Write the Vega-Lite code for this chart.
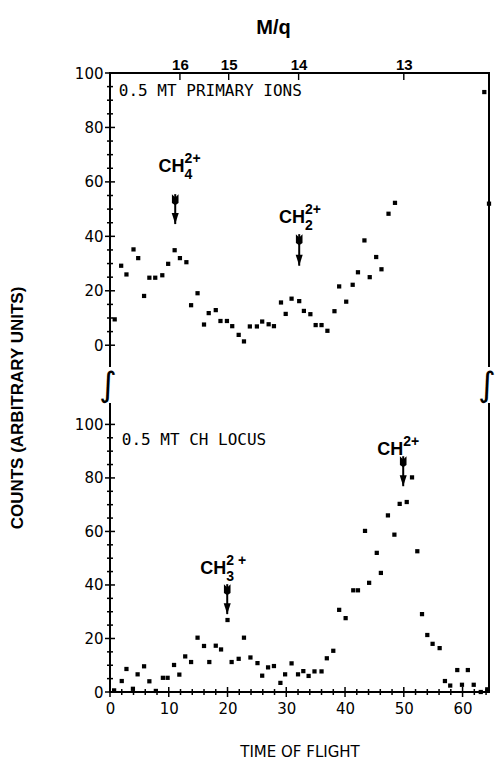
{
"$schema": "https://vega.github.io/schema/vega-lite/v6.json",
"background": "white",
"padding": {"left": 9, "top": 17, "right": 5, "bottom": 0},
"bounds": "flush",
"spacing": 36,
"title": {"text": "COUNTS (ARBITRARY UNITS)", "orient": "left", "anchor": "middle", "font": "Liberation Sans", "fontSize": 17, "fontWeight": "bold", "color": "black", "offset": 47, "dx": -20},
"datasets": {
"top": [{"tof":0.8,"cnt":9.5},{"tof":1.9,"cnt":29.2},{"tof":2.8,"cnt":26},{"tof":4.0,"cnt":35.2},{"tof":4.8,"cnt":32},{"tof":5.8,"cnt":18.1},{"tof":6.7,"cnt":24.8},{"tof":7.7,"cnt":24.8},{"tof":8.9,"cnt":25.7},{"tof":9.9,"cnt":29.9},{"tof":11.0,"cnt":34.9},{"tof":11.9,"cnt":32},{"tof":13.0,"cnt":30.5},{"tof":13.8,"cnt":14.7},{"tof":14.9,"cnt":19.1},{"tof":16.0,"cnt":7.6},{"tof":16.8,"cnt":11.8},{"tof":18.0,"cnt":12.9},{"tof":18.8,"cnt":8.9},{"tof":19.9,"cnt":8.9},{"tof":20.8,"cnt":7},{"tof":21.9,"cnt":3.8},{"tof":22.8,"cnt":1.4},{"tof":23.8,"cnt":6.9},{"tof":25.0,"cnt":6.9},{"tof":25.9,"cnt":8.7},{"tof":27.0,"cnt":7.7},{"tof":27.9,"cnt":7},{"tof":29.1,"cnt":15.7},{"tof":29.9,"cnt":11.5},{"tof":30.9,"cnt":17.1},{"tof":32.2,"cnt":16.2},{"tof":33.0,"cnt":12.6},{"tof":34.1,"cnt":11.4},{"tof":35.0,"cnt":7.4},{"tof":36.0,"cnt":7.4},{"tof":37.0,"cnt":5.3},{"tof":38.2,"cnt":12.5},{"tof":39.0,"cnt":21.6},{"tof":40.2,"cnt":16},{"tof":41.3,"cnt":22.2},{"tof":42.2,"cnt":26.8},{"tof":43.3,"cnt":38.5},{"tof":44.2,"cnt":25},{"tof":45.3,"cnt":32.4},{"tof":46.2,"cnt":27.9},{"tof":47.4,"cnt":48.3},{"tof":48.5,"cnt":52.3},{"tof":63.7,"cnt":93},{"tof":64.5,"cnt":52}],
"bot": [{"tof":0.7,"cnt":0.6},{"tof":2.0,"cnt":4.1},{"tof":2.8,"cnt":8.6},{"tof":3.9,"cnt":1.2},{"tof":4.7,"cnt":6.6},{"tof":5.8,"cnt":9.6},{"tof":6.7,"cnt":4.0},{"tof":7.8,"cnt":0.4},{"tof":9.0,"cnt":5.3},{"tof":9.8,"cnt":5.3},{"tof":10.9,"cnt":10.1},{"tof":11.8,"cnt":6.5},{"tof":12.8,"cnt":13.3},{"tof":13.8,"cnt":11.2},{"tof":14.9,"cnt":20.3},{"tof":16.0,"cnt":17.2},{"tof":16.9,"cnt":11.2},{"tof":18.0,"cnt":17.3},{"tof":18.9,"cnt":15.9},{"tof":20.0,"cnt":26.9},{"tof":20.7,"cnt":11.2},{"tof":21.9,"cnt":12.4},{"tof":22.8,"cnt":20.3},{"tof":23.9,"cnt":12.9},{"tof":25.1,"cnt":10.8},{"tof":25.9,"cnt":6.1},{"tof":26.9,"cnt":9.2},{"tof":27.9,"cnt":9.7},{"tof":29.0,"cnt":3.4},{"tof":29.8,"cnt":6.6},{"tof":30.9,"cnt":10.7},{"tof":32.0,"cnt":6.6},{"tof":32.9,"cnt":7.8},{"tof":33.8,"cnt":6.0},{"tof":34.8,"cnt":7.7},{"tof":36.0,"cnt":7.7},{"tof":36.9,"cnt":12.6},{"tof":38.0,"cnt":15.4},{"tof":39.0,"cnt":30.7},{"tof":40.1,"cnt":27.6},{"tof":41.4,"cnt":38.0},{"tof":42.2,"cnt":38.0},{"tof":43.4,"cnt":60.2},{"tof":44.1,"cnt":40.8},{"tof":45.4,"cnt":52.0},{"tof":46.1,"cnt":44.5},{"tof":47.3,"cnt":66.0},{"tof":48.4,"cnt":58.8},{"tof":49.3,"cnt":70.3},{"tof":50.5,"cnt":71.0},{"tof":51.4,"cnt":80.2},{"tof":52.3,"cnt":52.6},{"tof":53.1,"cnt":29.1},{"tof":54.0,"cnt":21.3},{"tof":54.9,"cnt":18.0},{"tof":56.1,"cnt":16.4},{"tof":57.0,"cnt":4.1},{"tof":57.9,"cnt":2.4},{"tof":59.1,"cnt":8.2},{"tof":59.9,"cnt":2.7},{"tof":60.9,"cnt":8.2},{"tof":61.9,"cnt":2.7},{"tof":63.1,"cnt":0},{"tof":64.2,"cnt":1.0}],
"topText": [{"tof":1.5,"cnt":93.5,"text":"0.5 MT PRIMARY IONS"}],
"botText": [{"tof":2.0,"cnt":94,"text":"0.5 MT CH LOCUS"}],
"topNotes": [{"tof":12.7,"cnt":65.4,"base":"CH","sub":"4","sup":"2+"},{"tof":33.2,"cnt":46.7,"base":"CH","sub":"2","sup":"2+"}],
"botNotes": [{"tof":19.8,"cnt":45.9,"base":"CH","sub":"3","sup":"2 +"},{"tof":49.9,"cnt":90.3,"base":"CH","sub":"","sup":"2+"}],
"topArrows": [{"tof":11.1,"from":55.5,"to":44.5},{"tof":32.2,"from":40.8,"to":29.2}],
"botArrows": [{"tof":19.95,"from":40.3,"to":29.1},{"tof":49.9,"from":88.1,"to":76.9}],
"topShafts": [{"id":"CH4","tof":11.1,"cnt":55.5},{"id":"CH4","tof":11.1,"cnt":44.5},{"id":"CH2","tof":32.2,"cnt":40.8},{"id":"CH2","tof":32.2,"cnt":29.2}],
"botShafts": [{"id":"CH3","tof":19.95,"cnt":40.3},{"id":"CH3","tof":19.95,"cnt":29.1},{"id":"CH","tof":49.9,"cnt":88.1},{"id":"CH","tof":49.9,"cnt":76.9}],
"topFrame": [{"ord":1,"tof":0,"cnt":-8},{"ord":2,"tof":0,"cnt":100},{"ord":3,"tof":64.5,"cnt":100},{"ord":4,"tof":64.5,"cnt":-8}],
"botFrame": [{"ord":1,"tof":0,"cnt":108},{"ord":2,"tof":0,"cnt":0},{"ord":3,"tof":64.5,"cnt":0},{"ord":4,"tof":64.5,"cnt":108}],
"yMajor": [{"tof":0,"cnt":0},{"tof":0,"cnt":20},{"tof":0,"cnt":40},{"tof":0,"cnt":60},{"tof":0,"cnt":80},{"tof":0,"cnt":100}],
"yMinor": [{"tof":0,"cnt":5},{"tof":0,"cnt":10},{"tof":0,"cnt":15},{"tof":0,"cnt":25},{"tof":0,"cnt":30},{"tof":0,"cnt":35},{"tof":0,"cnt":45},{"tof":0,"cnt":50},{"tof":0,"cnt":55},{"tof":0,"cnt":65},{"tof":0,"cnt":70},{"tof":0,"cnt":75},{"tof":0,"cnt":85},{"tof":0,"cnt":90},{"tof":0,"cnt":95}],
"xMajor": [{"tof":0,"cnt":0},{"tof":10,"cnt":0},{"tof":20,"cnt":0},{"tof":30,"cnt":0},{"tof":40,"cnt":0},{"tof":50,"cnt":0},{"tof":60,"cnt":0}],
"xMinor": [{"tof":2,"cnt":0},{"tof":4,"cnt":0},{"tof":6,"cnt":0},{"tof":8,"cnt":0},{"tof":12,"cnt":0},{"tof":14,"cnt":0},{"tof":16,"cnt":0},{"tof":18,"cnt":0},{"tof":22,"cnt":0},{"tof":24,"cnt":0},{"tof":26,"cnt":0},{"tof":28,"cnt":0},{"tof":32,"cnt":0},{"tof":34,"cnt":0},{"tof":36,"cnt":0},{"tof":38,"cnt":0},{"tof":42,"cnt":0},{"tof":44,"cnt":0},{"tof":46,"cnt":0},{"tof":48,"cnt":0},{"tof":52,"cnt":0},{"tof":54,"cnt":0},{"tof":56,"cnt":0},{"tof":58,"cnt":0},{"tof":62,"cnt":0},{"tof":64,"cnt":0}],
"mqTicks": [{"tof":11.9,"cnt":100},{"tof":20.2,"cnt":100},{"tof":32.1,"cnt":100},{"tof":50.0,"cnt":100}],
"breaks": [{"tof":0,"cnt":108},{"tof":64.5,"cnt":108}]
},
"vconcat": [
{
"width": 379, "height": 294,
"layer": [
{"data": {"name": "top"}, "mark": {"type": "square", "size": 18, "color": "black", "opacity": 1},
 "encoding": {
  "x": {"field": "tof", "type": "quantitative", "scale": {"domain": [0, 64.5], "nice": false, "zero": false},
   "axis": {"orient": "top", "values": [11.9, 20.2, 32.1, 50.0], "labelExpr": "datum.value < 15 ? '16' : datum.value < 25 ? '15' : datum.value < 40 ? '14' : '13'", "title": "M/q", "titleX": 163, "domain": false, "ticks": false, "tickSize": 0, "labelPadding": 1, "titlePadding": 20, "titleFontSize": 20, "titleFont": "Liberation Sans", "titleFontWeight": "bold", "labelFontSize": 15, "labelFont": "Liberation Sans", "labelFontWeight": "bold", "labelOverlap": false}},
  "y": {"field": "cnt", "type": "quantitative", "scale": {"domain": [-8, 100], "nice": false, "zero": false},
   "axis": {"values": [0, 20, 40, 60, 80, 100], "domain": false, "ticks": false, "tickSize": 0, "labelPadding": 7, "labelFontSize": 15, "labelOverlap": false, "title": null}}
 }},
{"data": {"name": "topFrame"}, "mark": {"type": "line", "strokeWidth": 2, "color": "black", "strokeJoin": "miter"},
 "encoding": {"x": {"field": "tof", "type": "quantitative"}, "y": {"field": "cnt", "type": "quantitative"}, "order": {"field": "ord"}}},
{"data": {"name": "yMajor"}, "mark": {"type": "point", "shape": "M-1,-0.15L1,-0.15L1,0.15L-1,0.15Z", "size": 100, "filled": true, "color": "black", "opacity": 1},
 "encoding": {"x": {"field": "tof", "type": "quantitative"}, "y": {"field": "cnt", "type": "quantitative"}}},
{"data": {"name": "yMinor"}, "mark": {"type": "point", "shape": "M-1,-0.25L1,-0.25L1,0.25L-1,0.25Z", "size": 36, "filled": true, "color": "black", "opacity": 1},
 "encoding": {"x": {"field": "tof", "type": "quantitative"}, "y": {"field": "cnt", "type": "quantitative"}}},
{"data": {"name": "mqTicks"}, "mark": {"type": "point", "shape": "M-0.1,0L0.1,0L0.1,1L-0.1,1Z", "size": 196, "filled": true, "color": "black", "opacity": 1},
 "encoding": {"x": {"field": "tof", "type": "quantitative"}, "y": {"field": "cnt", "type": "quantitative"}}},
{"data": {"name": "topText"}, "mark": {"type": "text", "align": "left", "baseline": "middle", "font": "DejaVu Sans Mono", "fontSize": 16, "color": "black"},
 "encoding": {"x": {"field": "tof", "type": "quantitative"}, "y": {"field": "cnt", "type": "quantitative"}, "text": {"field": "text"}}},
{"data": {"name": "topNotes"}, "mark": {"type": "text", "align": "right", "baseline": "middle", "font": "Liberation Sans", "fontSize": 18, "fontWeight": "bold", "color": "black"},
 "encoding": {"x": {"field": "tof", "type": "quantitative"}, "y": {"field": "cnt", "type": "quantitative"}, "text": {"field": "base"}}},
{"data": {"name": "topNotes"}, "mark": {"type": "text", "align": "left", "baseline": "middle", "font": "Liberation Sans", "fontSize": 14, "fontWeight": "bold", "color": "black", "dy": -8},
 "encoding": {"x": {"field": "tof", "type": "quantitative"}, "y": {"field": "cnt", "type": "quantitative"}, "text": {"field": "sup"}}},
{"data": {"name": "topNotes"}, "mark": {"type": "text", "align": "left", "baseline": "middle", "font": "Liberation Sans", "fontSize": 14, "fontWeight": "bold", "color": "black", "dy": 8},
 "encoding": {"x": {"field": "tof", "type": "quantitative"}, "y": {"field": "cnt", "type": "quantitative"}, "text": {"field": "sub"}}},
{"data": {"name": "topShafts"}, "mark": {"type": "line", "strokeWidth": 2, "color": "black"},
 "encoding": {"x": {"field": "tof", "type": "quantitative"}, "y": {"field": "cnt", "type": "quantitative"}, "detail": {"field": "id"}, "order": {"field": "cnt"}}},
{"data": {"name": "topArrows"}, "mark": {"type": "point", "shape": "M-0.32,-1L0.32,-1L0,0Z", "size": 484, "filled": true, "color": "black", "opacity": 1},
 "encoding": {"x": {"field": "tof", "type": "quantitative"}, "y": {"field": "to", "type": "quantitative"}}},
{"data": {"name": "topArrows"}, "mark": {"type": "point", "shape": "M-0.3,0L0,0.3L0.3,0L0.3,0.8L0,1L-0.3,0.8Z", "size": 484, "filled": true, "color": "black", "opacity": 1},
 "encoding": {"x": {"field": "tof", "type": "quantitative"}, "y": {"field": "from", "type": "quantitative"}}}
]
},
{
"width": 379, "height": 289,
"layer": [
{"data": {"name": "bot"}, "mark": {"type": "square", "size": 18, "color": "black", "opacity": 1},
 "encoding": {
  "x": {"field": "tof", "type": "quantitative", "scale": {"domain": [0, 64.5], "nice": false, "zero": false},
   "axis": {"orient": "bottom", "values": [0, 10, 20, 30, 40, 50, 60], "domain": false, "ticks": false, "tickSize": 0, "labelPadding": 9, "labelFontSize": 15, "labelOverlap": false, "title": "TIME OF FLIGHT", "titleFont": "DejaVu Sans", "titleFontSize": 15, "titleFontWeight": "normal", "titlePadding": 28}},
  "y": {"field": "cnt", "type": "quantitative", "scale": {"domain": [0, 108], "nice": false, "zero": false},
   "axis": {"values": [0, 20, 40, 60, 80, 100], "domain": false, "ticks": false, "tickSize": 0, "labelPadding": 7, "labelFontSize": 15, "labelOverlap": false, "title": null}}
 }},
{"data": {"name": "botFrame"}, "mark": {"type": "line", "strokeWidth": 2, "color": "black", "strokeJoin": "miter"},
 "encoding": {"x": {"field": "tof", "type": "quantitative"}, "y": {"field": "cnt", "type": "quantitative"}, "order": {"field": "ord"}}},
{"data": {"name": "yMajor"}, "mark": {"type": "point", "shape": "M-1,-0.15L1,-0.15L1,0.15L-1,0.15Z", "size": 100, "filled": true, "color": "black", "opacity": 1},
 "encoding": {"x": {"field": "tof", "type": "quantitative"}, "y": {"field": "cnt", "type": "quantitative"}}},
{"data": {"name": "yMinor"}, "mark": {"type": "point", "shape": "M-1,-0.25L1,-0.25L1,0.25L-1,0.25Z", "size": 36, "filled": true, "color": "black", "opacity": 1},
 "encoding": {"x": {"field": "tof", "type": "quantitative"}, "y": {"field": "cnt", "type": "quantitative"}}},
{"data": {"name": "xMajor"}, "mark": {"type": "point", "shape": "M-0.15,-1L0.15,-1L0.15,1L-0.15,1Z", "size": 100, "filled": true, "color": "black", "opacity": 1},
 "encoding": {"x": {"field": "tof", "type": "quantitative"}, "y": {"field": "cnt", "type": "quantitative"}}},
{"data": {"name": "xMinor"}, "mark": {"type": "point", "shape": "M-0.25,-1L0.25,-1L0.25,1L-0.25,1Z", "size": 36, "filled": true, "color": "black", "opacity": 1},
 "encoding": {"x": {"field": "tof", "type": "quantitative"}, "y": {"field": "cnt", "type": "quantitative"}}},
{"data": {"name": "botText"}, "mark": {"type": "text", "align": "left", "baseline": "middle", "font": "DejaVu Sans Mono", "fontSize": 16, "color": "black"},
 "encoding": {"x": {"field": "tof", "type": "quantitative"}, "y": {"field": "cnt", "type": "quantitative"}, "text": {"field": "text"}}},
{"data": {"name": "botNotes"}, "mark": {"type": "text", "align": "right", "baseline": "middle", "font": "Liberation Sans", "fontSize": 18, "fontWeight": "bold", "color": "black"},
 "encoding": {"x": {"field": "tof", "type": "quantitative"}, "y": {"field": "cnt", "type": "quantitative"}, "text": {"field": "base"}}},
{"data": {"name": "botNotes"}, "mark": {"type": "text", "align": "left", "baseline": "middle", "font": "Liberation Sans", "fontSize": 14, "fontWeight": "bold", "color": "black", "dy": -8},
 "encoding": {"x": {"field": "tof", "type": "quantitative"}, "y": {"field": "cnt", "type": "quantitative"}, "text": {"field": "sup"}}},
{"data": {"name": "botNotes"}, "mark": {"type": "text", "align": "left", "baseline": "middle", "font": "Liberation Sans", "fontSize": 14, "fontWeight": "bold", "color": "black", "dy": 8},
 "encoding": {"x": {"field": "tof", "type": "quantitative"}, "y": {"field": "cnt", "type": "quantitative"}, "text": {"field": "sub"}}},
{"data": {"name": "botShafts"}, "mark": {"type": "line", "strokeWidth": 2, "color": "black"},
 "encoding": {"x": {"field": "tof", "type": "quantitative"}, "y": {"field": "cnt", "type": "quantitative"}, "detail": {"field": "id"}, "order": {"field": "cnt"}}},
{"data": {"name": "botArrows"}, "mark": {"type": "point", "shape": "M-0.32,-1L0.32,-1L0,0Z", "size": 484, "filled": true, "color": "black", "opacity": 1},
 "encoding": {"x": {"field": "tof", "type": "quantitative"}, "y": {"field": "to", "type": "quantitative"}}},
{"data": {"name": "botArrows"}, "mark": {"type": "point", "shape": "M-0.3,0L0,0.3L0.3,0L0.3,0.8L0,1L-0.3,0.8Z", "size": 484, "filled": true, "color": "black", "opacity": 1},
 "encoding": {"x": {"field": "tof", "type": "quantitative"}, "y": {"field": "from", "type": "quantitative"}}},
{"data": {"name": "breaks"}, "mark": {"type": "text", "text": "∫", "align": "center", "baseline": "bottom", "font": "DejaVu Sans", "fontSize": 34, "color": "black", "dx": -2},
 "encoding": {"x": {"field": "tof", "type": "quantitative"}, "y": {"field": "cnt", "type": "quantitative"}}}
]
}
],
"config": {
 "view": {"stroke": null},
 "axis": {"labelColor": "black", "labelFont": "DejaVu Sans", "labelFontSize": 13, "titleColor": "black", "grid": false, "labelFlush": false}
}
}
